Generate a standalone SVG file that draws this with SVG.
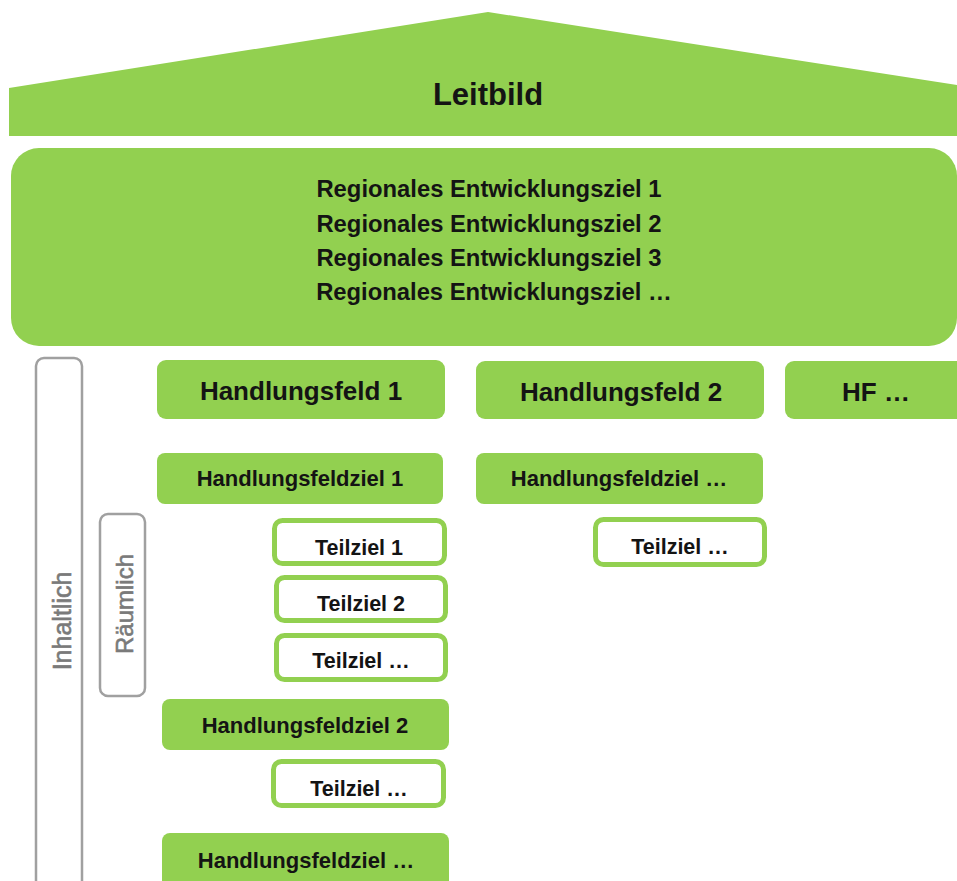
<svg xmlns="http://www.w3.org/2000/svg" width="957" height="881" viewBox="0 0 957 881">
<style>
  .g { fill: #92d050; }
  .box { fill: #92d050; }
  .tz { fill: #ffffff; stroke: #92d050; stroke-width: 5; }
  .br { fill: none; stroke: #a0a0a0; stroke-width: 2.5; }
  text { font-family: "Liberation Sans", Arial, sans-serif; font-weight: bold; fill: #141414; text-anchor: middle; }
  .t1 { font-size: 31px; }
  .t2 { font-size: 23.8px; }
  .t3 { font-size: 26px; }
  .t4 { font-size: 22px; }
  .t5 { font-size: 21.5px; }
  .side { font-weight: normal; fill: #7a7a7a; stroke: #7a7a7a; stroke-width: 0.6; }
</style>
<rect width="957" height="881" fill="#ffffff"/>
<g id="connectors"/>
<g id="leitbild">
  <polygon class="g" points="9,88 488,12 957,85 957,136 9,136"/>
  <text class="t1" x="488" y="105">Leitbild</text>
</g>
<g id="entwicklungsziele">
  <rect class="g" x="11" y="148" width="946" height="198" rx="28" ry="28"/>
  <text class="t2" x="489" y="197">Regionales Entwicklungsziel 1</text>
  <text class="t2" x="489" y="232">Regionales Entwicklungsziel 2</text>
  <text class="t2" x="489" y="266">Regionales Entwicklungsziel 3</text>
  <text class="t2" x="494" y="300">Regionales Entwicklungsziel …</text>
</g>
<g id="inhaltlich">
  <rect class="br" x="36" y="358" width="46" height="540" rx="8" ry="8"/>
  <text class="side" font-size="25" transform="translate(71,621) rotate(-90)" x="0" y="0">Inhaltlich</text>
</g>
<g id="raeumlich">
  <rect class="br" x="100" y="514" width="45" height="182" rx="8" ry="8"/>
  <text class="side" font-size="24" transform="translate(133,604) rotate(-90)" x="0" y="0">Räumlich</text>
</g>
<g id="hf1">
  <rect class="box" x="157" y="360" width="288" height="59" rx="9" ry="9"/>
  <text class="t3" x="301" y="400">Handlungsfeld 1</text>
</g>
<g id="hf2">
  <rect class="box" x="476" y="361" width="288" height="58" rx="9" ry="9"/>
  <text class="t3" x="621" y="401">Handlungsfeld 2</text>
</g>
<g id="hf3">
  <rect class="box" x="785" y="361" width="190" height="58" rx="9" ry="9"/>
  <text class="t3" x="876" y="401">HF …</text>
</g>
<g id="hfz1">
  <rect class="box" x="157" y="453" width="286" height="51" rx="8" ry="8"/>
  <text class="t4" x="300" y="486">Handlungsfeldziel 1</text>
</g>
<g id="hfz-hf2">
  <rect class="box" x="476" y="453" width="287" height="51" rx="8" ry="8"/>
  <text class="t4" x="619" y="486">Handlungsfeldziel …</text>
</g>
<g id="tz1">
  <rect class="tz" x="274.5" y="520.5" width="170" height="43" rx="8" ry="8"/>
  <text class="t5" x="359" y="555">Teilziel 1</text>
</g>
<g id="tz2">
  <rect class="tz" x="276.5" y="577.5" width="169" height="43" rx="8" ry="8"/>
  <text class="t5" x="361" y="611">Teilziel 2</text>
</g>
<g id="tz3">
  <rect class="tz" x="276.5" y="635.5" width="169" height="44" rx="8" ry="8"/>
  <text class="t5" x="361" y="668">Teilziel …</text>
</g>
<g id="hfz2">
  <rect class="box" x="162" y="699" width="287" height="51" rx="8" ry="8"/>
  <text class="t4" x="305" y="733">Handlungsfeldziel 2</text>
</g>
<g id="tz4">
  <rect class="tz" x="273.5" y="761.5" width="170" height="44" rx="8" ry="8"/>
  <text class="t5" x="359" y="796">Teilziel …</text>
</g>
<g id="hfz3">
  <rect class="box" x="162" y="833" width="287" height="60" rx="8" ry="8"/>
  <text class="t4" x="306" y="868">Handlungsfeldziel …</text>
</g>
<g id="tz-hf2">
  <rect class="tz" x="595.5" y="519.5" width="169" height="45" rx="8" ry="8"/>
  <text class="t5" x="680" y="554">Teilziel …</text>
</g>
</svg>
